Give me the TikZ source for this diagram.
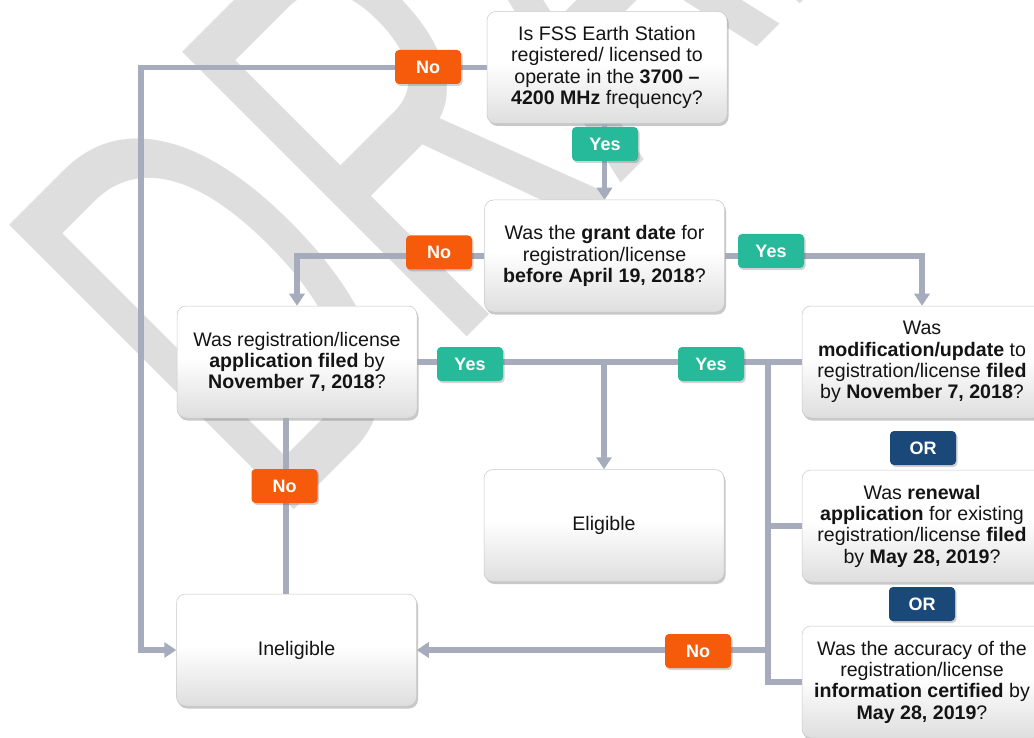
\documentclass[tikz,border=0pt]{standalone}
\usepackage{fontspec}
\usepackage{graphicx}
\setmainfont{Liberation Sans}
\usetikzlibrary{arrows.meta,shadows,calc}
\definecolor{lin}{RGB}{167,172,189}
\definecolor{orng}{RGB}{245,91,10}
\definecolor{grn}{RGB}{38,186,155}
\definecolor{orb}{RGB}{26,72,120}
\definecolor{wm}{RGB}{222,222,222}
\definecolor{boxbot}{RGB}{222,222,222}
\definecolor{boxline}{RGB}{200,200,200}
\definecolor{txt}{RGB}{20,20,20}
\pgfdeclareverticalshading{boxshade}{100bp}{color(0bp)=(boxbot); color(25bp)=(boxbot); color(52bp)=(white); color(100bp)=(white)}
\begin{document}
\begin{tikzpicture}[x=1pt,y=-1pt,
  qbox/.style={rectangle, rounded corners=9pt, draw=boxline, line width=0.5pt, shading=boxshade,
    minimum width=240pt, minimum height=112pt, inner sep=0pt, align=center,
    font=\fontsize{19.6}{21.3}\selectfont, text=txt,
    drop shadow={shadow xshift=1.5pt, shadow yshift=-2.5pt, opacity=0.3, fill=black!70}},
  lab/.style={rectangle, rounded corners=4pt, minimum width=66pt, minimum height=34pt, inner sep=0pt,
    text=white, font=\bfseries\fontsize{18}{18}\selectfont,
    drop shadow={shadow xshift=1.5pt, shadow yshift=-2pt, opacity=0.25, fill=black!70}},
  nolab/.style={lab, fill=orng},
  yeslab/.style={lab, fill=grn},
  orlab/.style={lab, fill=orb},
  conn/.style={draw=lin, line width=5.5pt},
  arr/.style={conn, -{Triangle[width=15pt,length=12pt]}}
]
\useasboundingbox (0,0) rectangle (1034,738);
\clip (0,0) rectangle (1034,738);
\fill[white] (0,0) rectangle (1034,738);

% watermark
\node[rotate=45, anchor=base west, inner sep=0pt, text=wm, font=\fontsize{585}{585}\selectfont] (wmk) at (274,530) {\scalebox{0.58}[1]{DRAFT}};

% boxes
\node[qbox] (b1) at (607,67.5) {Is FSS Earth Station\\registered/ licensed to\\operate in the \textbf{3700 –}\\\textbf{4200 MHz} frequency?};
\node[qbox] (b2) at (604.5,256) {Was the \textbf{grant date} for\\registration/license\\\textbf{before April 19, 2018}?};
\node[qbox] (b3) at (297,362) {Was registration/license\\\textbf{application filed} by\\\textbf{November 7, 2018}?};
\node[qbox] (b4) at (922,362) {Was\\\textbf{modification/update} to\\registration/license \textbf{filed}\\by \textbf{November 7, 2018}?};
\node[qbox] (el) at (604,525.5) {Eligible};
\node[qbox] (b5) at (922,526) {Was \textbf{renewal}\\\textbf{application} for existing\\registration/license \textbf{filed}\\by \textbf{May 28, 2019}?};
\node[qbox] (b6) at (922,682) {Was the accuracy of the\\registration/license\\\textbf{information certified} by\\\textbf{May 28, 2019}?};
\node[qbox] (inel) at (296.5,650) {Ineligible};

% helper coordinates
\coordinate (lc) at (141,67.5);
\coordinate (bus) at (768,0);
\coordinate (nx) at (286,0);

% connectors
\draw[arr] (b1.west) -- (lc) |- (inel.west);
\draw[arr] (b1.south -| b2.north) -- (b2.north);
\draw[arr] (b2.west) -| (b3.north);
\draw[arr] (b2.east) -| (b4.north);
\draw[conn] (b3.east) -- (b4.west);
\draw[arr] (el.north |- b3.east) -- (el.north);
\draw[conn] (b3.east -| bus) |- (b6.west);
\draw[conn] (b5.west -| bus) -- (b5.west);
\draw[arr] (bus |- inel.east) -- (inel.east);
\draw[conn] (b3.south -| nx) -- (inel.north -| nx);

% labels
\node[nolab] (no1) at (428,67) {No};
\node[yeslab] (yes1) at (605,144) {Yes};
\node[nolab] (no2) at (439,252.5) {No};
\node[yeslab] (yes2) at (771,251) {Yes};
\node[yeslab] (yes3) at (470,364) {Yes};
\node[yeslab] (yes4) at (711,364) {Yes};
\node[orlab] (or1) at (923,448) {OR};
\node[orlab] (or2) at (922,604) {OR};
\node[nolab] (no3) at (284.5,486) {No};
\node[nolab] (no4) at (698,651) {No};
\end{tikzpicture}
\end{document}
